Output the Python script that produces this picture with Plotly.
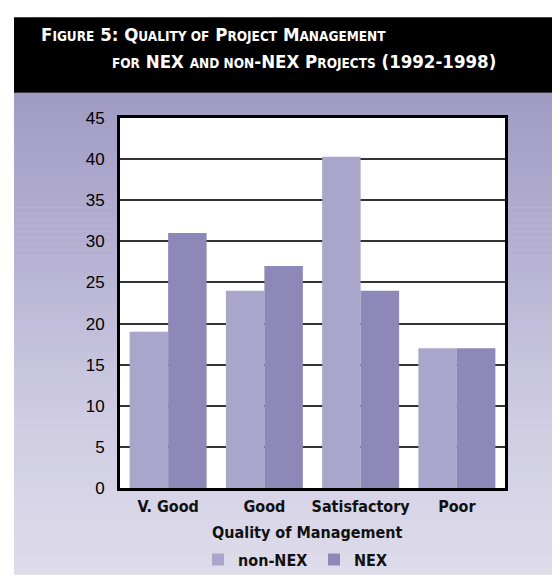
import plotly.graph_objects as go

categories = ["V. Good", "Good", "Satisfactory", "Poor"]
series_names = ["non-NEX", "NEX"]
non_nex = [19, 24, 40.3, 17]
nex = [31, 27, 24, 17]
y_ticks = [0, 5, 10, 15, 20, 25, 30, 35, 40, 45]
title_line1 = [("F", 1), ("IGURE", 0), (" 5: ", 1), ("Q", 1), ("UALITY OF", 0), (" P", 1), ("ROJECT", 0), (" M", 1), ("ANAGEMENT", 0)]
title_line2 = [("FOR", 0), (" NEX ", 1), ("AND NON", 0), ("-NEX", 1), (" P", 1), ("ROJECTS", 0), (" (1992-1998)", 1)]
x_title = "Quality of Management"

W, H = 560, 581
L, R, T, B = 112, 497, 110, 492

COL_NON = "#aaa5ca"
COL_NEX = "#8d88b8"
COND = "Noto Sans Condensed, Liberation Sans Narrow, DejaVu Sans Condensed, Arial Narrow, sans-serif"


def px(x):
    return (x - L) / (R - L)


def py(y):
    return (B - y) / (B - T)


def smallcaps(parts, big, small):
    out = []
    for txt, isbig in parts:
        size = big if isbig else small
        out.append(f'<span style="font-size:{size}px">{txt}</span>')
    return "".join(out)


fig = go.Figure()
fig.add_trace(go.Bar(x=categories, y=non_nex, name=series_names[0],
                     marker=dict(color=COL_NON, line=dict(width=0))))
fig.add_trace(go.Bar(x=categories, y=nex, name=series_names[1],
                     marker=dict(color=COL_NEX, line=dict(width=0))))

shapes = []
# gradient background panel
stops = [(84, (160, 155, 194)), (250, (182, 177, 211)), (420, (207, 204, 227)), (581, (222, 220, 234))]


def color_at(y):
    for (y0, c0), (y1, c1) in zip(stops[:-1], stops[1:]):
        if y0 <= y <= y1:
            f = (y - y0) / (y1 - y0)
            return tuple(round(a + (b - a) * f) for a, b in zip(c0, c1))
    return stops[-1][1]


n = 80
for i in range(n):
    y0 = 84 + (581 - 84) * i / n
    y1 = 84 + (581 - 84) * (i + 1) / n
    c = color_at((y0 + y1) / 2)
    shapes.append(dict(type="rect", xref="paper", yref="paper", layer="below",
                       x0=px(6), x1=px(W + 2), y0=py(y1 + 0.6), y1=py(y0),
                       fillcolor=f"rgb{c}", line=dict(width=0)))
# black title band
shapes.append(dict(type="rect", xref="paper", yref="paper", layer="below",
                   x0=px(6), x1=px(W + 2), y0=py(84), y1=py(6),
                   fillcolor="black", line=dict(width=0)))
# white plot area
shapes.append(dict(type="rect", xref="paper", yref="paper", layer="below",
                   x0=0, x1=1, y0=0, y1=1, fillcolor="white", line=dict(width=0)))

annotations = [
    dict(text=smallcaps(title_line1, 18.5, 13.5), x=px(31), y=py(37), xref="paper", yref="paper",
         xanchor="left", yanchor="bottom", showarrow=False,
         font=dict(family=COND, color="white", weight="bold")),
    dict(text=smallcaps(title_line2, 18.5, 13.5), x=px(490), y=py(65), xref="paper", yref="paper",
         xanchor="right", yanchor="bottom", showarrow=False,
         font=dict(family=COND, color="white", weight="bold")),
    dict(text=x_title, x=px(299), y=py(538), xref="paper", yref="paper",
         xanchor="center", yanchor="middle", showarrow=False,
         font=dict(family=COND, size=16, color="#111111", weight="bold")),
]

fig.update_layout(
    width=W, height=H,
    margin=dict(l=L, r=W - R, t=T, b=H - B, pad=0),
    paper_bgcolor="white", plot_bgcolor="white",
    barmode="group", bargap=0.2, bargroupgap=0,
    shapes=shapes, annotations=annotations,
    showlegend=True,
    legend=dict(orientation="h", x=px(190), y=py(566), xanchor="left", yanchor="middle",
                xref="paper", yref="paper", entrywidth=71, bgcolor="rgba(0,0,0,0)",
                font=dict(family=COND, size=16, color="#111111", weight="bold"),
                traceorder="normal"),
    xaxis=dict(showline=True, linecolor="black", linewidth=3, mirror=True,
               ticks="outside", ticklen=2, tickcolor="rgba(0,0,0,0)",
               tickfont=dict(family=COND, size=16, color="#111111", weight="bold"),
               showgrid=False),
    yaxis=dict(range=[0, 45], tickvals=y_ticks, showline=True, linecolor="black", linewidth=3,
               mirror=True, ticks="outside", ticklen=9, tickcolor="rgba(0,0,0,0)",
               tickfont=dict(family="Liberation Sans, Arial, sans-serif", size=17, color="#000000"),
               showgrid=True, gridcolor="#333333", gridwidth=1.5, zeroline=False),
)

fig.write_html("out.html")
